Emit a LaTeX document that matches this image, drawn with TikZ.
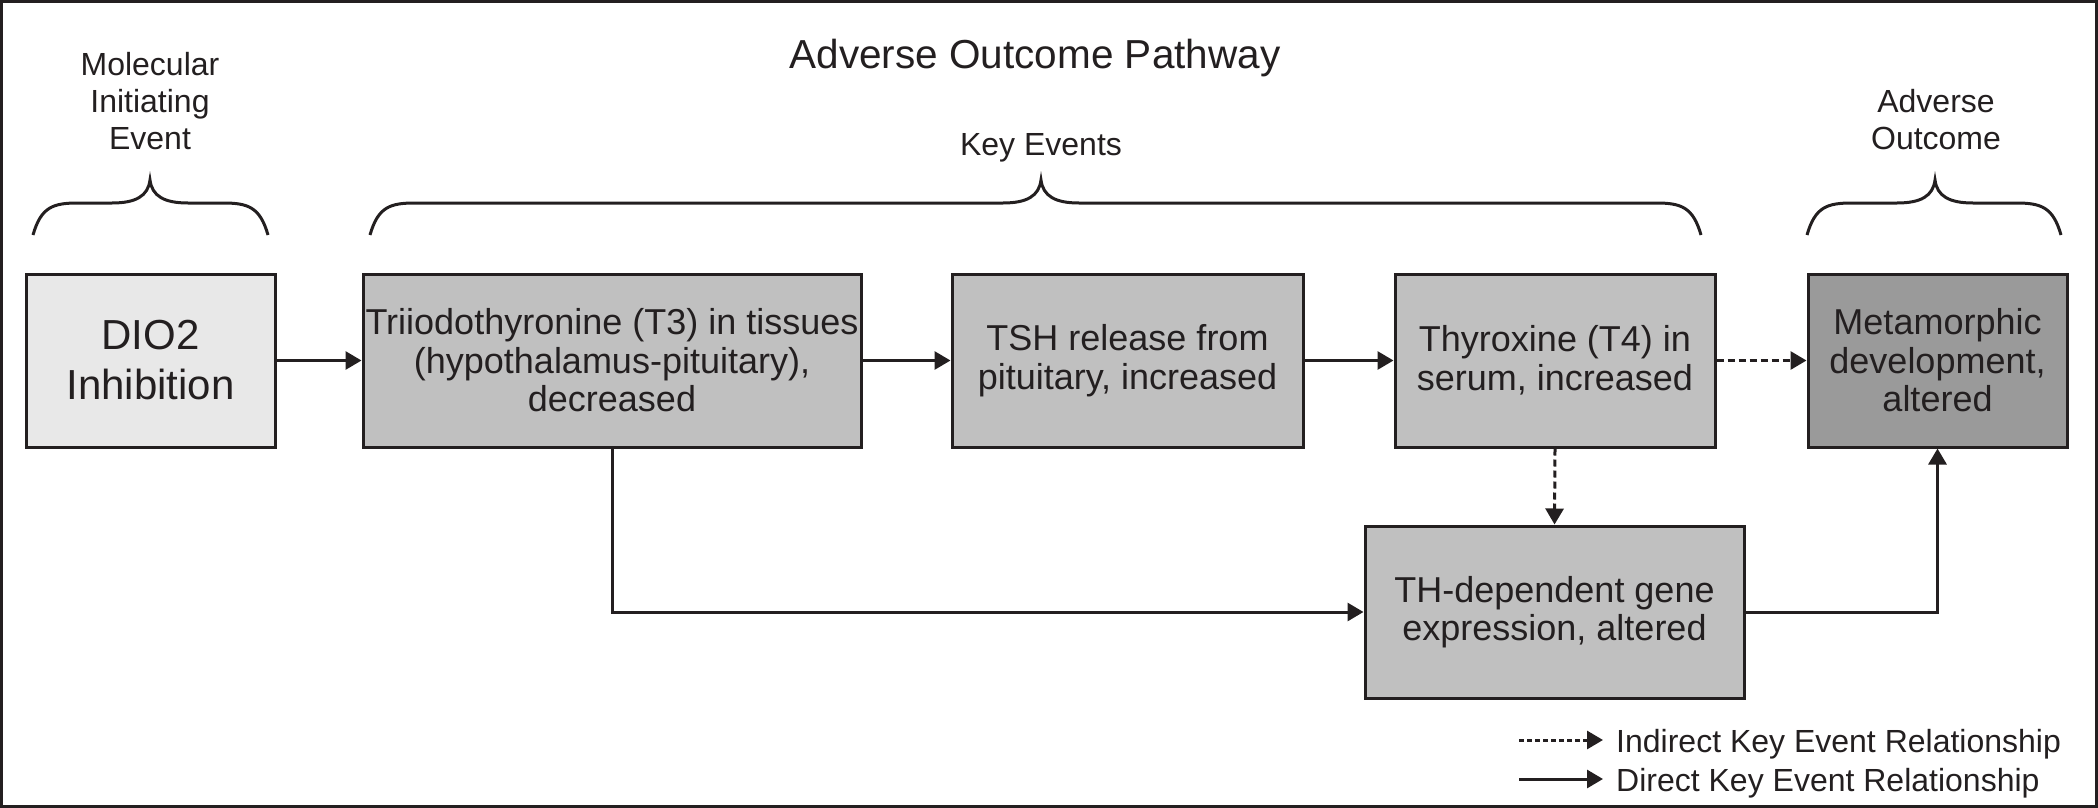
\documentclass[tikz,border=0pt]{standalone}
\usepackage{fontspec}
\setmainfont{Liberation Sans}
\usetikzlibrary{arrows.meta}
\definecolor{ink}{HTML}{231F20}
\definecolor{mieFill}{HTML}{E8E8E8}
\definecolor{keFill}{HTML}{C0C0C0}
\definecolor{aoFill}{HTML}{9A9A9A}
\tikzset{
  evbox/.style={draw=ink, line width=3pt, inner sep=0pt, align=center, text=ink,
    font=\fontsize{36}{38.5}\selectfont},
  lbl/.style={inner sep=0pt, align=center, text=ink},
  direct/.style={draw=ink, line width=3pt, -{Triangle[length=16pt,width=18pt]}},
  indirect/.style={direct, dash pattern=on 7pt off 4pt},
  bracestyle/.style={draw=ink, line width=3pt}
}
\newcommand\mybrace[3]{%
  \draw[bracestyle] (#1,235) .. controls (#1+8,207) and (#1+20,203) .. (#1+45,203)
    -- (#2-38,203) .. controls (#2-14,203) and (#2-2,196) .. (#2,180)
    .. controls (#2+2,196) and (#2+14,203) .. (#2+38,203)
    -- (#3-45,203) .. controls (#3-20,203) and (#3-8,207) .. (#3,235);}
\begin{document}
\begin{tikzpicture}[x=1pt,y=-1pt]
\useasboundingbox (0,0) rectangle (2098,808);
\draw[draw=ink, line width=3pt] (1.5,1.5) rectangle (2096.5,806.5);

% headings
\node[lbl, font=\fontsize{40.5}{46}\selectfont, anchor=base] (title) at (1035,69) {Adverse Outcome Pathway};
\node[lbl, font=\fontsize{32}{37}\selectfont] (mielbl) at (150,101) {Molecular\\Initiating\\Event};
\node[lbl, font=\fontsize{32}{37}\selectfont, anchor=base] (kelbl) at (1041,155) {Key Events};
\node[lbl, font=\fontsize{32}{37}\selectfont] (aolbl) at (1936,120) {Adverse\\Outcome};

% braces
\mybrace{33}{150}{268}
\mybrace{370}{1041}{1701}
\mybrace{1807}{1935}{2061}

% boxes
\node[evbox, fill=mieFill, minimum width=249pt, minimum height=173pt,
      font=\fontsize{42}{50}\selectfont] (dio) at (150.5,360.5) {DIO2\\Inhibition};
\node[evbox, fill=keFill, minimum width=498pt, minimum height=173pt] (t3) at (612,360.5)
  {Triiodothyronine (T3) in tissues\\(hypothalamus-pituitary),\\decreased};
\node[evbox, fill=keFill, minimum width=351pt, minimum height=173pt] (tsh) at (1127.5,360.5)
  {TSH release from\\pituitary, increased};
\node[evbox, fill=keFill, minimum width=320pt, minimum height=173pt] (t4) at (1555,360.5)
  {Thyroxine (T4) in\\serum, increased};
\node[evbox, fill=aoFill, minimum width=259pt, minimum height=173pt] (meta) at (1937.5,360.5)
  {Metamorphic\\development,\\altered};
\node[evbox, fill=keFill, minimum width=379pt, minimum height=172pt] (th) at (1554.5,612)
  {TH-dependent gene\\expression, altered};

% connectors
\draw[direct] (dio.east) -- (t3.west);
\draw[direct] (t3.east) -- (tsh.west);
\draw[direct] (tsh.east) -- (t4.west);
\draw[indirect] (t4.east) -- (meta.west);
\draw[indirect] (t4.south) -- (th.north);
\draw[direct] (t3.south) |- (th.west);
\draw[direct] (th.east) -| (meta.south);

% legend
\coordinate (la) at (1519,740);
\coordinate (lb) at (1603,740);
\coordinate (lc) at (1519,779);
\coordinate (ld) at (1603,779);
\draw[indirect, dash pattern=on 5pt off 3pt] (la) -- (lb);
\draw[direct] (lc) -- (ld);
\node[lbl, font=\fontsize{32}{37}\selectfont, anchor=base west] (lgi) at (1616,752) {Indirect Key Event Relationship};
\node[lbl, font=\fontsize{32}{37}\selectfont, anchor=base west] (lgd) at (1616,791) {Direct Key Event Relationship};
\end{tikzpicture}
\end{document}
